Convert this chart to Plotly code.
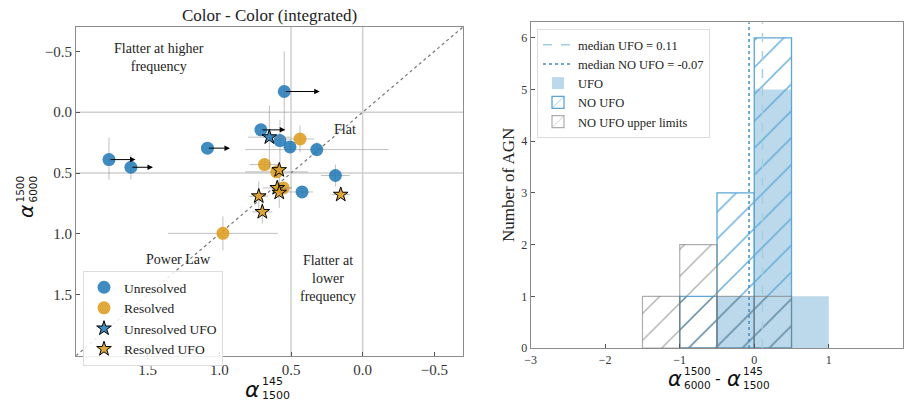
import plotly.graph_objects as go

W, H = 904, 401

# ---------------- Left panel data (colour-colour) ----------------
unres_x = [0.547, 0.71, 0.577, 0.507, 0.32, 1.083, 1.77, 1.617, 0.19, 0.423]
unres_y = [-0.17, 0.145, 0.233, 0.285, 0.307, 0.295, 0.389, 0.452, 0.52, 0.655]
unres_ex_plus = [0, 0, 0, 0.04, 0.5, 0, 0, 0, 0.1, 0.19]
unres_ex_minus = [0, 0, 0, 0.04, 0.5, 0, 0, 0, 0.1, 0.076]
unres_ey_plus = [0.33, 0, 0.26, 0.04, 0.06, 0, 0.165, 0.1, 0.09, 0.03]
unres_ey_minus = [0.33, 0, 0.17, 0.04, 0.06, 0, 0.18, 0.1, 0.09, 0.03]

res_x = [0.437, 0.685, 0.60, 0.554, 0.975]
res_y = [0.22, 0.43, 0.49, 0.622, 0.995]
res_ex = [0.1, 0.105, 0.22, 0.06, 0.383]
res_ey = [0.11, 0.05, 0.04, 0.04, 0.14]

ufo_unres_x = [0.651]
ufo_unres_y = [0.205]
ufo_unres_ex = [0.15]
ufo_unres_ey = [0.26]

ufo_res_x = [0.582, 0.596, 0.582, 0.153, 0.725, 0.70]
ufo_res_y = [0.475, 0.622, 0.66, 0.677, 0.69, 0.819]
ufo_res_ex = [0.04, 0.1, 0.04, 0.065, 0.065, 0.07]
ufo_res_ey = [0.04, 0.04, 0.125, 0.03, 0.12, 0.095]

# limits (arrows)
limit_x = [0.547, 0.71, 1.083, 1.77, 1.617]
limit_y = [-0.17, 0.145, 0.295, 0.389, 0.452]
limit_end_x = [0.30, 0.54, 0.926, 1.585, 1.463]

quad_vlines = [0.5, 0.0]
quad_hlines = [0.0, 0.5]
diag = [2.0, -0.7]
left_ticks = [1.5, 1.0, 0.5, 0.0, -0.5]
left_ticktext = ["1.5", "1.0", "0.5", "0.0", "\u22120.5"]

# ---------------- Right panel data (histogram) ----------------
bin_edges = [-1.5, -1.0, -0.5, 0.0, 0.5, 1.0]
ufo_counts = [0, 0, 1, 5, 1]
no_ufo_counts = [0, 1, 3, 6, 0]
no_ufo_ul_counts = [1, 2, 1, 1, 0]
median_ufo = 0.11
median_no_ufo = -0.07
right_xticks = [-3, -2, -1, 0, 1, 2]
right_xticktext = ["\u22123", "\u22122", "\u22121", "0", "1", "2"]
right_yticks = [0, 1, 2, 3, 4, 5, 6]
right_ymax = 6.3

BLUE = "rgba(31,119,180,0.85)"
ORANGE = "rgba(222,160,35,0.9)"
ERR = "rgba(140,140,140,0.55)"
SERIF = "Liberation Serif"
SANS = "DejaVu Sans"


def PX(x):
    return x / W


def PY(y):
    return 1 - y / H


fig = go.Figure()

# diagonal y = x
fig.add_trace(go.Scatter(x=diag, y=diag, mode="lines", xaxis="x", yaxis="y",
                         line=dict(color="#777", width=1.2, dash="dot"),
                         showlegend=False, hoverinfo="skip"))


def err(plus, minus=None):
    d = dict(type="data", array=plus, color=ERR, thickness=1, width=0, visible=True)
    if minus is not None:
        d["symmetric"] = False
        d["arrayminus"] = minus
    return d


fig.add_trace(go.Scatter(
    x=unres_x, y=unres_y, mode="markers", name="Unresolved", xaxis="x", yaxis="y",
    marker=dict(color=BLUE, size=13, line=dict(width=0)),
    error_x=err(unres_ex_plus, unres_ex_minus), error_y=err(unres_ey_plus, unres_ey_minus),
    legend="legend"))
fig.add_trace(go.Scatter(
    x=res_x, y=res_y, mode="markers", name="Resolved", xaxis="x", yaxis="y",
    marker=dict(color=ORANGE, size=13, line=dict(width=0)),
    error_x=err(res_ex), error_y=err(res_ey), legend="legend"))
fig.add_trace(go.Scatter(
    x=ufo_unres_x, y=ufo_unres_y, mode="markers", name="Unresolved UFO", xaxis="x", yaxis="y",
    marker=dict(color=BLUE, size=11, symbol="star", line=dict(width=1, color="black")),
    error_x=err(ufo_unres_ex), error_y=err(ufo_unres_ey), legend="legend"))
fig.add_trace(go.Scatter(
    x=ufo_res_x, y=ufo_res_y, mode="markers", name="Resolved UFO", xaxis="x", yaxis="y",
    marker=dict(color=ORANGE, size=11, symbol="star", line=dict(width=1, color="black")),
    error_x=err(ufo_res_ex), error_y=err(ufo_res_ey), legend="legend"))

annotations = []
for x0, y0, x1 in zip(limit_x, limit_y, limit_end_x):
    annotations.append(dict(x=x1, y=y0, ax=x0, ay=y0, xref="x", yref="y", axref="x", ayref="y",
                            showarrow=True, arrowhead=2, arrowsize=1.1, arrowwidth=1,
                            arrowcolor="black", text="", standoff=0, startstandoff=0))

shapes = []
for v in quad_vlines:
    shapes.append(dict(type="line", xref="x", yref="y domain", x0=v, x1=v, y0=0, y1=1,
                       line=dict(color="#cfcfcf", width=1.5), layer="below"))
for h in quad_hlines:
    shapes.append(dict(type="line", xref="x domain", yref="y", x0=0, x1=1, y0=h, y1=h,
                       line=dict(color="#cfcfcf", width=1.5), layer="below"))

# region labels
txtfont = dict(family=SERIF, size=14, color="#222")
annotations += [
    dict(x=1.42, y=-0.45, xref="x", yref="y", text="Flatter at higher<br>frequency",
         showarrow=False, font=txtfont, xanchor="center"),
    dict(x=0.125, y=0.144, xref="x", yref="y", text="Flat", showarrow=False, font=txtfont,
         xanchor="center"),
    dict(x=1.286, y=1.211, xref="x", yref="y", text="Power Law", showarrow=False, font=txtfont,
         xanchor="center"),
    dict(x=0.245, y=1.368, xref="x", yref="y", text="Flatter at<br>lower<br>frequency",
         showarrow=False, font=txtfont, xanchor="center"),
]

# ---------------- Right panel traces ----------------
centers = [(a + b) / 2 for a, b in zip(bin_edges[:-1], bin_edges[1:])]
widths = [b - a for a, b in zip(bin_edges[:-1], bin_edges[1:])]


def nz(counts):
    xs, ys, ws = [], [], []
    for c, n, w in zip(centers, counts, widths):
        if n > 0:
            xs.append(c); ys.append(n); ws.append(w)
    return xs, ys, ws


ux, uy, uw = nz(ufo_counts)
fig.add_trace(go.Bar(x=ux, y=uy, width=uw, name="UFO", xaxis="x2", yaxis="y2",
                     marker=dict(color="rgba(150,196,222,0.65)", line=dict(width=0)),
                     legend="legend2", legendrank=3))
nx, ny, nw = nz(no_ufo_counts)
fig.add_trace(go.Bar(x=nx, y=ny, width=nw, name="NO UFO", xaxis="x2", yaxis="y2",
                     marker=dict(color="rgba(0,0,0,0)", line=dict(width=1.3, color="#5aa6d6"),
                                 pattern=dict(shape="/", fgcolor="#5aa6d6", bgcolor="rgba(0,0,0,0)",
                                              size=19, solidity=0.07)),
                     legend="legend2", legendrank=4))
lx, ly, lw = nz(no_ufo_ul_counts)
fig.add_trace(go.Bar(x=lx, y=ly, width=lw, name="NO UFO upper limits", xaxis="x2", yaxis="y2",
                     marker=dict(color="rgba(0,0,0,0)", line=dict(width=1.2, color="rgba(120,120,120,0.6)"),
                                 pattern=dict(shape="/", fgcolor="rgba(120,120,120,0.6)",
                                              bgcolor="rgba(0,0,0,0)", size=19, solidity=0.07)),
                     legend="legend2", legendrank=5))
fig.add_trace(go.Scatter(x=[median_ufo, median_ufo], y=[0, right_ymax], mode="lines",
                         name="median UFO = %.2f" % median_ufo, xaxis="x2", yaxis="y2",
                         line=dict(color="#a6cee3", width=1.5, dash="dash"),
                         legend="legend2", legendrank=1))
fig.add_trace(go.Scatter(x=[median_no_ufo, median_no_ufo], y=[0, right_ymax], mode="lines",
                         name="median NO UFO = %.2f" % median_no_ufo, xaxis="x2", yaxis="y2",
                         line=dict(color="#3f8fc8", width=1.5, dash="dot"),
                         legend="legend2", legendrank=2))

# ---------------- Titles / math labels ----------------
annotations.append(dict(x=PX(269), y=PY(15), xref="paper", yref="paper", yanchor="middle",
                        xanchor="center", text="Color - Color (integrated)", showarrow=False,
                        font=dict(family=SERIF, size=17, color="#222")))
annotations.append(dict(x=PX(508), y=PY(185), xref="paper", yref="paper", textangle=-90,
                        xanchor="center", yanchor="middle",
                        text="Number of AGN", showarrow=False,
                        font=dict(family=SERIF, size=17, color="#222")))


def mtext(x, y, t, size, anchor="center", angle=0, align="center"):
    annotations.append(dict(x=PX(x), y=PY(y), xref="paper", yref="paper", text=t,
                            showarrow=False, font=dict(family=SANS, size=size, color="#111"),
                            xanchor=anchor, yanchor="middle", textangle=angle, align=align,
                            borderpad=0))


# left x label
mtext(261, 389, "<i>α</i>", 22, "right")
mtext(261, 388.5, "145<br>1500", 11, "left", align="left")
# left y label (rotated)
mtext(26, 212, "<i>α</i>", 20, angle=-90)
mtext(26.5, 189, "1500<br>6000", 10.5, angle=-90, align="left")
# right x label
mtext(683, 378.5, "<i>α</i>", 21, "right")
mtext(683, 378, "1500<br>6000", 10.5, "left", align="left")
mtext(718, 378.5, "-", 16)
mtext(742, 378.5, "<i>α</i>", 21, "right")
mtext(742, 378, "145<br>1500", 10.5, "left", align="left")

axcommon = dict(showline=True, linecolor="#8c8c8c", linewidth=1.2, mirror=True, showgrid=False,
                zeroline=False, ticks="inside", ticklen=4, tickcolor="#555", tickwidth=1,
                automargin=False)

fig.update_layout(
    template="none",
    width=W, height=H, margin=dict(l=0, r=0, t=0, b=0, autoexpand=False),
    paper_bgcolor="white", plot_bgcolor="white", barmode="overlay",
    xaxis=dict(domain=[PX(76), PX(463)], range=[2.0, -0.7], tickvals=left_ticks,
               ticktext=left_ticktext, anchor="y",
               tickfont=dict(family=SERIF, size=15, color="#333"), **axcommon),
    yaxis=dict(domain=[PY(355.7), PY(27)], range=[2.0, -0.7], tickvals=left_ticks,
               ticktext=left_ticktext, anchor="x",
               tickfont=dict(family=SERIF, size=15, color="#333"), **axcommon),
    xaxis2=dict(domain=[PX(530.7), PX(903.3)], range=[-3, 2], tickvals=right_xticks,
                ticktext=right_xticktext, anchor="y2",
                tickfont=dict(family=SERIF, size=12, color="#333"), **axcommon),
    yaxis2=dict(domain=[PY(348), PY(22.3)], range=[0, right_ymax], tickvals=right_yticks,
                anchor="x2", tickfont=dict(family=SERIF, size=12, color="#333"), **axcommon),
    legend=dict(x=PX(83), y=PY(271), xanchor="left", yanchor="top",
                bgcolor="rgba(255,255,255,0.85)", bordercolor="#dddddd", borderwidth=1,
                font=dict(family=SERIF, size=13.5, color="#222"), itemwidth=30,
                tracegroupgap=0),
    legend2=dict(x=PX(537), y=PY(29), xanchor="left", yanchor="top",
                 bgcolor="rgba(255,255,255,0.85)", bordercolor="#dddddd", borderwidth=1,
                 font=dict(family=SERIF, size=12.5, color="#222"), itemwidth=30,
                 tracegroupgap=0),
    annotations=annotations, shapes=shapes,
)

fig.write_html("out.html")
